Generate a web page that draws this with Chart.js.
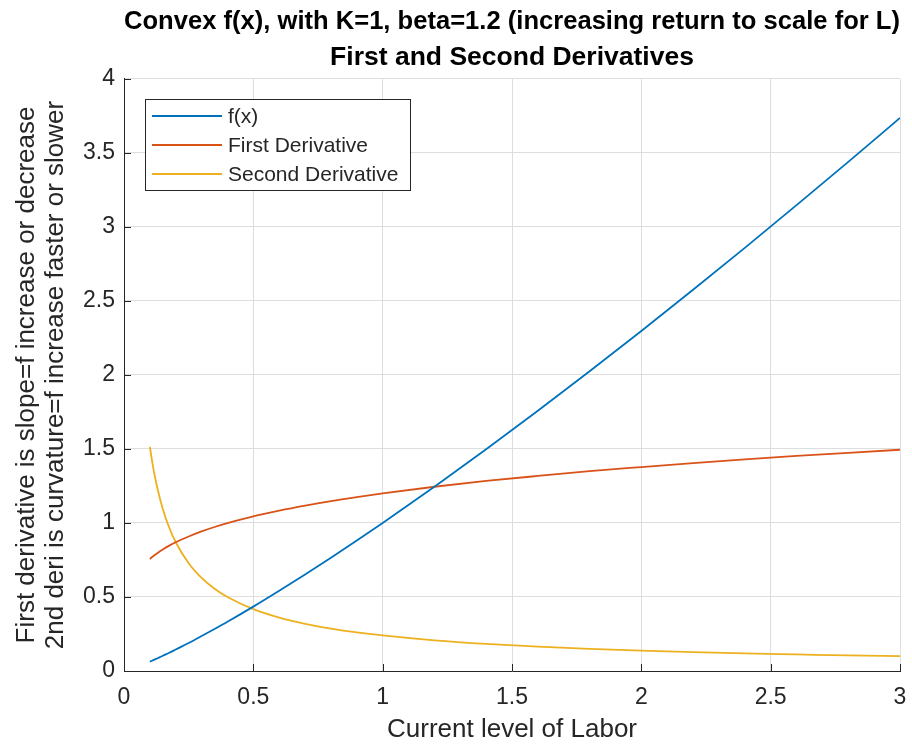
<!DOCTYPE html>
<html>
<head>
<meta charset="utf-8">
<script src="https://cdn.jsdelivr.net/npm/chart.js@4.4.1/dist/chart.umd.min.js"></script>
<style>
  html, body { margin: 0; padding: 0; background: #fff; }
  #wrap { width: 912px; height: 749px; }
</style>
</head>
<body>
<div id="wrap"><canvas id="chart"></canvas></div>
<script>
// Values (K=1, beta=1.2)
const labor = [0.1, 0.11, 0.12, 0.13, 0.15, 0.175, 0.2, 0.25, 0.3, 0.35, 0.4, 0.5, 0.6, 0.7, 0.8, 0.9, 1,
    1.2, 1.4, 1.6, 1.8, 2, 2.2, 2.4, 2.6, 2.8, 3];
const fx = [0.063, 0.071, 0.079, 0.086, 0.103, 0.123, 0.145, 0.189, 0.236, 0.284, 0.333, 0.435, 0.542, 0.652, 0.765, 0.881, 1.0,
    1.245, 1.498, 1.758, 2.025, 2.297, 2.576, 2.859, 3.148, 3.440, 3.737];
const firstDeriv = [0.757, 0.772, 0.785, 0.798, 0.821, 0.847, 0.870, 0.909, 0.943, 0.973, 0.999, 1.045, 1.083, 1.117, 1.148, 1.175, 1.2,
    1.245, 1.284, 1.318, 1.350, 1.378, 1.405, 1.430, 1.453, 1.474, 1.495];
const secondDeriv = [1.514, 1.403, 1.309, 1.228, 1.095, 0.968, 0.870, 0.728, 0.629, 0.556, 0.500, 0.418, 0.361, 0.319, 0.287, 0.261, 0.24,
    0.207, 0.183, 0.165, 0.150, 0.138, 0.128, 0.119, 0.112, 0.105, 0.100];

const xTicks = [0, 0.5, 1, 1.5, 2, 2.5, 3];
const yTicks = [0, 0.5, 1, 1.5, 2, 2.5, 3, 3.5, 4];

const FONT = '"Liberation Sans", Arial, Helvetica, sans-serif';
const AXIS = '#262626';

function toPoints(ys) {
    return labor.map((x, i) => ({ x: x, y: ys[i] }));
}

// MATLAB style tick marks pointing into the plot
const inwardTicks = {
    id: 'inwardTicks',
    afterDatasetsDraw(chart) {
        const { ctx, chartArea: a, scales: { x, y } } = chart;
        ctx.save();
        ctx.strokeStyle = AXIS;
        ctx.lineWidth = 1;
        ctx.beginPath();
        x.ticks.forEach(t => {
            const px = Math.round(x.getPixelForValue(t.value)) + 0.5;
            ctx.moveTo(px, a.bottom);
            ctx.lineTo(px, a.bottom - 7);
        });
        y.ticks.forEach(t => {
            const py = Math.round(y.getPixelForValue(t.value)) + 0.5;
            ctx.moveTo(a.left, py);
            ctx.lineTo(a.left + 7, py);
        });
        ctx.stroke();
        ctx.restore();
    }
};

// Legend box in the upper left corner of the axes
const legendBox = {
    id: 'legendBox',
    afterDraw(chart) {
        const ctx = chart.ctx;
        ctx.save();
        ctx.fillStyle = '#fff';
        ctx.fillRect(145.5, 99.5, 265, 91);
        ctx.strokeStyle = AXIS;
        ctx.lineWidth = 1;
        ctx.strokeRect(145.5, 99.5, 265, 91);
        ctx.font = '21px ' + FONT;
        ctx.textBaseline = 'middle';
        chart.data.datasets.forEach((ds, i) => {
            const y = 116 + i * 29;
            ctx.strokeStyle = ds.borderColor;
            ctx.lineWidth = 2;
            ctx.beginPath();
            ctx.moveTo(152, y);
            ctx.lineTo(222, y);
            ctx.stroke();
            ctx.fillStyle = AXIS;
            ctx.fillText(ds.label, 228, y + 1);
        });
        ctx.restore();
    }
};

new Chart(document.getElementById('chart'), {
    type: 'line',
    data: {
        datasets: [
            { label: 'f(x)', data: toPoints(fx), borderColor: '#0072BD' },
            { label: 'First Derivative', data: toPoints(firstDeriv), borderColor: '#D95319' },
            { label: 'Second Derivative', data: toPoints(secondDeriv), borderColor: '#EDB120' }
        ]
    },
    options: {
        responsive: true,
        maintainAspectRatio: false,
        animation: false,
        layout: { padding: { left: 0, right: 12, top: 0, bottom: 0 } },
        elements: {
            point: { radius: 0 },
            line: { borderWidth: 1.8, cubicInterpolationMode: 'monotone', fill: false }
        },
        scales: {
            x: {
                type: 'linear',
                min: 0,
                max: 3,
                afterBuildTicks: s => { s.ticks = xTicks.map(v => ({ value: v })); },
                afterFit: s => { s.height = 78; s.paddingLeft = 0; s.paddingRight = 0; },
                grid: { color: '#dedede', drawTicks: false },
                border: { color: AXIS, width: 1 },
                ticks: { color: AXIS, padding: 13, font: { family: FONT, size: 23 }, callback: v => String(v) },
                title: {
                    display: true,
                    text: 'Current level of Labor',
                    color: AXIS,
                    font: { family: FONT, size: 26 },
                    padding: { top: 0, bottom: 4 }
                }
            },
            y: {
                min: 0,
                max: 4,
                afterBuildTicks: s => { s.ticks = yTicks.map(v => ({ value: v })); },
                afterFit: s => { s.width = 124; s.paddingTop = 0; s.paddingBottom = 0; },
                grid: { color: '#dedede', drawTicks: false },
                border: { color: AXIS, width: 1 },
                ticks: { color: AXIS, padding: 9, font: { family: FONT, size: 23 }, callback: v => String(v) },
                title: {
                    display: true,
                    text: ['First derivative is slope=f increase or decrease',
                        '2nd deri is curvature=f increase faster or slower'],
                    color: AXIS,
                    font: { family: FONT, size: 26, lineHeight: 1.1 },
                    padding: { top: 13, bottom: 0 }
                }
            }
        },
        plugins: {
            legend: { display: false },
            tooltip: { enabled: false },
            title: {
                display: true,
                fullSize: false,
                text: ['Convex f(x), with K=1, beta=1.2 (increasing return to scale for L)',
                    'First and Second Derivatives'],
                color: '#000',
                font: { family: FONT, size: 26.5, weight: 'bold', lineHeight: 1.33 },
                padding: { top: 4.5, bottom: 4 }
            }
        }
    },
    plugins: [inwardTicks, legendBox]
});
</script>
</body>
</html>
